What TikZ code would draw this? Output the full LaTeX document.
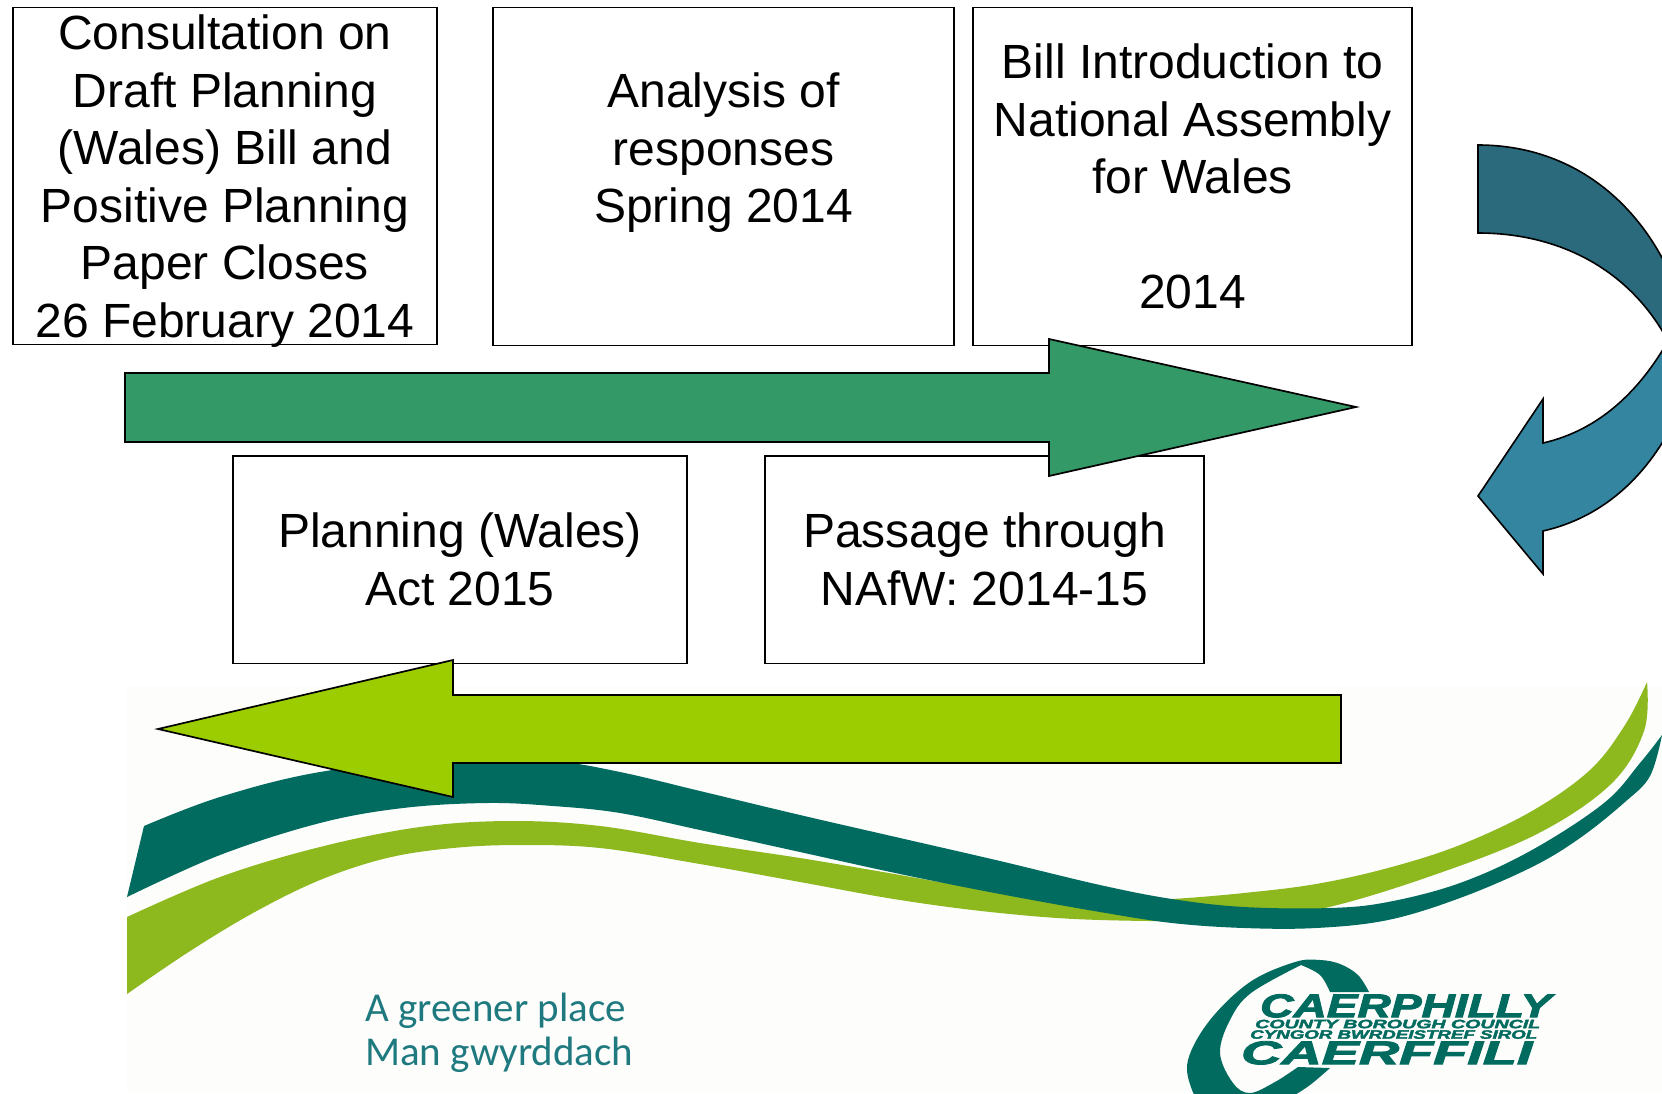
\documentclass[tikz,border=0pt]{standalone}
\usepackage{fontspec}
\setmainfont{Liberation Sans}
\newfontfamily\sloganfont{Carlito}
\newfontfamily\logofont[BoldItalicFeatures={FakeBold=2.5}]{Liberation Sans}
\definecolor{arrowgreen}{HTML}{339966}
\definecolor{arrowlime}{HTML}{9BCD00}
\definecolor{swooshdark}{HTML}{006B5E}
\definecolor{swooshlight}{HTML}{8DB81E}
\definecolor{curvedark}{HTML}{2A6A7C}
\definecolor{curvelight}{HTML}{3385A0}
\definecolor{slogan}{HTML}{1F7A80}
\definecolor{paper}{HTML}{FDFDFC}
\newcommand{\logoword}[3]{\resizebox{#1pt}{#2pt}{\logofont\bfseries\itshape #3}}
\tikzset{
  box/.style={draw=black,line width=1.5pt,fill=white,align=center,inner sep=0pt,
    font=\fontsize{48}{57.6}\selectfont},
  boxtext/.style={align=center,inner sep=0pt,font=\fontsize{48}{57.6}\selectfont},
  blockarrow/.style={draw=black,line width=1.7pt,line join=miter,miter limit=10},
  curvearrow/.style={draw=black,line width=1.6pt,line join=miter},
  logotext/.style={inner sep=0pt,text=swooshdark},
  smoothline/.style={smooth,tension=0.6}
}
\begin{document}
\begin{tikzpicture}[x=1pt,y=-1pt]
\useasboundingbox (0,0) rectangle (1662,1093);
\clip (0,0) rectangle (1662,1093);
% faint background of the logo picture
\fill[paper] (127,686) rectangle (1662,1093);
% swooshes
\fill[swooshlight] plot[smoothline] coordinates {(127,917) (220,877) (320,847) (420,827) (510,821) (600,826) (700,843) (800,858) (883,872) (1000,892) (1100,902) (1172,899) (1244,893) (1316,884) (1388,868) (1460,845) (1532,811) (1590,770) (1625,725) (1647,682)}
  -- plot[smoothline] coordinates {(1647,682) (1644,731) (1611,784) (1537,834) (1431,876) (1325,908) (1240,920) (1100,920) (1000,913) (900,900) (800,882) (700,864) (600,848) (520,845) (453,848) (387,858) (320,880) (253,913) (187,953) (127,994)} -- cycle;
\fill[swooshdark] plot[smoothline] coordinates {(144,826) (220,797) (320,772) (453,757) (553,761) (620,772) (700,791) (800,815) (900,838) (1000,861) (1100,885) (1172,899) (1244,907) (1330,908) (1388,902) (1460,883) (1532,850) (1604,803) (1640,763) (1662,735)}
  -- plot[smoothline] coordinates {(1662,735) (1650,776) (1625,802) (1580,838) (1532,867) (1460,898) (1388,920) (1316,928) (1244,928) (1172,923) (1100,912) (1000,894) (900,874) (800,852) (700,830) (620,813) (553,806) (487,803) (403,808) (320,823) (220,855) (127,897)} -- cycle;
% slogan
\node[anchor=west,inner sep=0pt,text=slogan,font=\sloganfont\fontsize{41}{44}\selectfont,align=left] (slogan) at (365,1033) {A greener place\\Man gwyrddach};
% logo ring
\fill[swooshdark] plot[smoothline] coordinates {(1369,992) (1358,975) (1340,964) (1320,960) (1295,962) (1250,982) (1210,1020) (1188,1060) (1192,1090) (1205,1110)}
  -- (1290,1110) -- plot[smoothline] coordinates {(1290,1098) (1310,1085) (1330,1068)}
  -- plot[smoothline] coordinates {(1298,1067) (1275,1082) (1250,1093) (1233,1083) (1220,1053) (1230,1020) (1251,993) (1301,965)}
  -- plot[smoothline] coordinates {(1301,965) (1320,975) (1330,992)} -- cycle;
% logo lettering
\node[logotext,anchor=north west] (logoa) at (1260,994) {\logoword{291}{23}{CAERPHILLY}};
\node[logotext,anchor=north west] (logob) at (1255,1019.5) {\logoword{285}{8.5}{COUNTY BOROUGH COUNCIL}};
\node[logotext,anchor=north west] (logoc) at (1250,1030) {\logoword{287}{8.5}{CYNGOR BWRDEISTREF SIROL}};
\node[logotext,anchor=north west] (logod) at (1241,1041) {\logoword{291}{23}{CAERFFILI}};
% boxes
\node[box,minimum width=424pt,minimum height=337pt] (consultbox) at (224.8,176) {};
\node[boxtext] (consult) at (224.8,181) {Consultation on\\Draft Planning\\(Wales) Bill and\\Positive Planning\\Paper Closes\\26 February 2014};
\node[box,minimum width=461pt,minimum height=338pt] (analysis) at (723.5,176.5) {Analysis of\\responses\\Spring 2014\\\ };
\node[box,minimum width=439pt,minimum height=338pt] (bill) at (1192.5,176.5) {Bill Introduction to\\National Assembly\\for Wales\\\ \\2014};
\node[box,minimum width=454pt,minimum height=207.5pt] (act) at (460,559.5) {Planning (Wales)\\Act 2015};
\node[box,minimum width=439pt,minimum height=207.5pt] (passage) at (984.5,559.5) {Passage through\\NAfW: 2014-15};
% block arrows
\draw[blockarrow,fill=arrowgreen] (125,373) -- (1049,373) -- (1049,339) -- (1356,407) -- (1049,476) -- (1049,442) -- (125,442) -- cycle;
\draw[blockarrow,fill=arrowlime] (1341,695) -- (453,695) -- (453,660) -- (158,729) -- (453,797) -- (453,763) -- (1341,763) -- cycle;
% curved arrow
\draw[curvearrow,fill=curvelight] (1668,341) .. controls (1640,390) and (1600,430) .. (1543,443) -- (1543,399) -- (1478,496) -- (1543,574) -- (1543,531) .. controls (1600,518) and (1645,480) .. (1675,420) -- (1690,341) -- cycle;
\draw[curvearrow,fill=curvedark] (1478,145) .. controls (1570,145) and (1640,200) .. (1675,285) -- (1690,341) -- (1668,341) .. controls (1630,270) and (1560,233) .. (1478,233) -- cycle;
\end{tikzpicture}
\end{document}
